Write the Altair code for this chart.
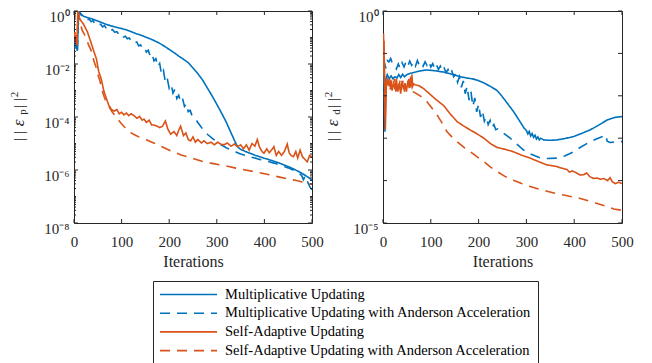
import altair as alt
import pandas as pd

FONT = "Liberation Serif"
AX = "#262626"

SERIES = [
    "Multiplicative Updating",
    "Multiplicative Updating with Anderson Acceleration",
    "Self-Adaptive Updating",
    "Self-Adaptive Updating with Anderson Acceleration",
]
COLORS = ["#0072BD", "#0072BD", "#D95319", "#D95319"]
DASHES = [[1, 0], [10, 7], [1, 0], [10, 7]]

X_TICKS = [0, 100, 200, 300, 400, 500]
YL_TICKS = [1, 1e-2, 1e-4, 1e-6, 1e-8]
YL_LABELS = ["10⁰", "10⁻²", "10⁻⁴", "10⁻⁶", "10⁻⁸"]
YR_TICKS = [1, 1e-5]
YR_LABELS = ["10⁰", "10⁻⁵"]

# (iteration, log10 value)
L_MU = [(0,-1.45),(2,-1.3),(4,-1.25),(7,-1.5),(10,0.0),(15,-0.12),(20,-0.2),(30,-0.26),(40,-0.31),(50,-0.38),
        (60,-0.45),(70,-0.52),(80,-0.57),(90,-0.62),(100,-0.66),(110,-0.71),(120,-0.78),(130,-0.85),(140,-0.91),
        (150,-0.98),(160,-1.05),(170,-1.13),(180,-1.22),(190,-1.33),(200,-1.45),(210,-1.57),(220,-1.7),(230,-1.82),
        (240,-1.95),(250,-2.15),(260,-2.36),(270,-2.6),(280,-2.9),(290,-3.2),(300,-3.52),(310,-3.85),(320,-4.2),
        (330,-4.6),(340,-5.0),(345,-5.15),(350,-5.22),(360,-5.3),(370,-5.37),(380,-5.44),(390,-5.5),(400,-5.56),
        (410,-5.61),(420,-5.67),(430,-5.73),(440,-5.8),(450,-5.87),(460,-5.95),(470,-6.04),(480,-6.14),(490,-6.25),
        (500,-6.38)]
L_MUAA = [(0,-1.4),(2,-1.2),(4,-1.3),(7,-1.55),(10,-0.02),(15,-0.15),(20,-0.25),(24,-0.3),(28,-0.34),(32,-0.3),
          (36,-0.4),(40,-0.36),(44,-0.48),(48,-0.44),(52,-0.52),(56,-0.5),(60,-0.6),(64,-0.55),(68,-0.66),(72,-0.62),
          (77,-0.74),(81,-0.7),(85,-0.8),(90,-0.78),(95,-0.9),(100,-0.86),(104,-0.98),(108,-0.95),(112,-1.05),
          (116,-1.02),(120,-1.12),(124,-1.1),(128,-1.2),(132,-1.17),(136,-1.32),(140,-1.28),(144,-1.42),(148,-1.38),
          (152,-1.55),(156,-1.48),(160,-1.7),(164,-1.62),(168,-1.88),(172,-1.8),(176,-2.1),(180,-1.98),(184,-2.4),
          (188,-2.25),(192,-2.7),(196,-2.55),(200,-2.92),(204,-2.78),(208,-3.1),(212,-2.95),(216,-3.3),(220,-3.18),
          (224,-3.42),(228,-3.3),(232,-3.6),(236,-3.5),(240,-3.8),(244,-3.75),(248,-3.95),(252,-4.0),(258,-4.15),
          (264,-4.3),(270,-4.45),(276,-4.58),(282,-4.68),(290,-4.8),(300,-4.93),(310,-5.06),(320,-5.16),(330,-5.25),
          (340,-5.32),(350,-5.4),(360,-5.45),(370,-5.5),(380,-5.55),(390,-5.6),(400,-5.64),(410,-5.69),(420,-5.74),
          (430,-5.8),(440,-5.86),(450,-5.92),(460,-6.0),(470,-6.1),(478,-6.2),(482,-6.36),(486,-6.22),(490,-6.42),
          (495,-6.62),(500,-6.75)]
L_SA = [(0,-1.2),(3,-0.9),(6,-1.3),(8,0.0),(12,-0.3),(20,-0.5),(28,-0.78),(35,-1.15),(42,-1.54),(47,-1.8),
        (52,-2.29),(57,-2.55),(63,-3.04),(68,-3.3),(73,-3.55),(78,-3.7),(84,-3.78),(90,-3.72),(95,-3.88),(100,-3.82),
        (105,-3.92),(110,-3.85),(115,-3.95),(120,-3.88),(126,-3.95),(132,-4.05),(138,-3.98),(143,-4.12),(147,-4.08),
        (152,-4.2),(158,-4.12),(163,-4.3),(168,-4.3),(175,-4.35),(180,-4.4),(186,-4.35),(192,-4.15),(197,-4.45),
        (203,-4.65),(210,-4.55),(216,-4.7),(220,-4.5),(224,-4.35),(230,-4.7),(235,-4.6),(240,-4.85),(245,-4.9),
        (250,-4.75),(255,-4.95),(260,-4.85),(268,-4.98),(273,-4.9),(280,-5.0),(288,-4.95),(295,-5.05),(302,-4.95),
        (308,-5.02),(315,-5.05),(322,-4.98),(330,-5.1),(337,-5.02),(343,-5.12),(350,-5.05),(356,-5.2),(362,-5.05),
        (368,-5.25),(374,-5.0),(380,-5.1),(385,-4.85),(390,-5.15),(395,-5.3),(399,-5.37),(405,-5.2),(410,-5.35),
        (415,-5.25),(420,-5.12),(425,-5.45),(430,-5.3),(436,-5.45),(442,-5.3),(448,-5.02),(452,-5.35),(456,-5.45),
        (461,-5.5),(466,-5.3),(470,-5.55),(475,-5.25),(480,-5.5),(485,-5.6),(490,-5.69),(495,-5.45),(500,-5.5)]
L_SAAA = [(0,-1.1),(2,-0.8),(4,-1.0),(6,-1.25),(9,-0.02),(13,-0.45),(17,-0.72),(21,-0.85),(25,-1.0),(28,-1.15),
          (31,-1.3),(35,-1.45),(38,-1.6),(42,-1.9),(45,-2.05),(48,-2.2),(51,-2.45),(54,-2.6),(57,-2.85),(60,-3.05),
          (63,-3.22),(66,-3.36),(70,-3.5),(75,-3.65),(80,-3.8),(85,-3.92),(90,-4.03),(98,-4.22),(105,-4.36),
          (112,-4.48),(120,-4.6),(130,-4.7),(140,-4.78),(153,-4.87),(165,-4.96),(180,-5.08),(196,-5.22),(210,-5.33),
          (225,-5.43),(245,-5.54),(260,-5.62),(275,-5.7),(290,-5.75),(308,-5.81),(325,-5.87),(340,-5.93),(360,-6.0),
          (378,-6.06),(395,-6.12),(410,-6.18),(430,-6.26),(448,-6.33),(465,-6.39),(480,-6.45),(490,-6.5),(500,-6.55)]

R_MU = [(0,-1.3),(2,-1.5),(4,-2.85),(6,-1.6),(9,-1.5),(13,-1.6),(17,-1.53),(21,-1.6),(25,-1.55),(29,-1.58),
        (33,-1.5),(37,-1.57),(41,-1.49),(45,-1.55),(50,-1.5),(57,-1.47),(65,-1.45),(75,-1.42),(85,-1.4),(92,-1.39),
        (100,-1.4),(110,-1.41),(120,-1.43),(127,-1.44),(140,-1.48),(150,-1.51),(162,-1.55),(175,-1.58),(187,-1.6),
        (197,-1.63),(210,-1.69),(225,-1.78),(238,-1.87),(246,-1.97),(255,-2.1),(265,-2.25),(273,-2.37),(285,-2.58),
        (295,-2.76),(300,-2.82),(303,-2.9),(306,-2.84),(309,-2.95),(312,-2.89),(315,-2.98),(318,-2.93),(321,-3.02),
        (324,-2.97),(327,-3.04),(330,-3.0),(336,-3.04),(350,-3.05),(364,-3.04),(380,-3.01),(399,-2.96),(415,-2.89),
        (434,-2.8),(450,-2.7),(469,-2.57),(485,-2.51),(500,-2.49)]
R_MUAA = [(0,-1.3),(3,-1.22),(6,-1.35),(9,-1.17),(12,-1.2),(16,-1.12),(20,-1.25),(24,-1.3),(28,-1.37),(32,-1.25),
          (36,-1.36),(40,-1.22),(44,-1.32),(48,-1.2),(52,-1.3),(56,-1.18),(60,-1.28),(64,-1.2),(68,-1.3),(72,-1.17),
          (76,-1.28),(80,-1.22),(84,-1.3),(88,-1.2),(92,-1.28),(96,-1.19),(100,-1.32),(104,-1.24),(108,-1.36),
          (112,-1.27),(116,-1.38),(120,-1.3),(124,-1.42),(128,-1.35),(132,-1.45),(136,-1.38),(140,-1.5),(144,-1.42),
          (148,-1.55),(152,-1.48),(156,-1.68),(160,-1.55),(164,-1.8),(168,-1.65),(172,-1.95),(176,-1.78),(180,-2.1),
          (184,-1.9),(188,-2.25),(192,-2.05),(196,-2.38),(200,-2.2),(204,-2.5),(208,-2.35),(212,-2.6),(216,-2.5),
          (220,-2.68),(224,-2.58),(228,-2.75),(232,-2.68),(236,-2.8),(240,-2.78),(252,-2.88),(266,-3.0),(280,-3.14),
          (294,-3.28),(310,-3.38),(328,-3.46),(345,-3.48),(364,-3.47),(380,-3.42),(399,-3.32),(415,-3.2),(434,-3.08),
          (450,-3.0),(462,-2.95),(466,-2.92),(469,-3.07),(475,-3.1),(485,-3.09),(500,-3.08)]
R_SA = [(0,-1.4),(1,-0.53),(3,-1.3),(5,-2.8),(7,-1.7),(10,-1.6),(13,-1.78),(16,-1.62),(19,-1.88),(22,-1.68),
        (25,-1.85),(28,-1.6),(31,-1.9),(34,-1.7),(37,-1.95),(40,-1.65),(43,-1.85),(46,-1.7),(49,-1.9),(52,-1.65),
        (55,-1.82),(58,-1.55),(61,-1.8),(64,-1.72),(67,-1.74),(75,-1.76),(85,-1.83),(92,-1.9),(100,-1.98),
        (110,-2.08),(120,-2.17),(127,-2.23),(140,-2.42),(155,-2.61),(170,-2.72),(183,-2.81),(197,-2.9),(211,-3.0),
        (225,-3.13),(239,-3.22),(255,-3.26),(273,-3.32),(290,-3.4),(308,-3.47),(325,-3.55),(343,-3.63),(360,-3.66),
        (372,-3.7),(378,-3.72),(385,-3.74),(390,-3.8),(396,-3.77),(405,-3.82),(413,-3.87),(420,-3.86),(426,-3.82),
        (432,-3.9),(440,-3.95),(448,-3.94),(455,-3.97),(462,-3.95),(470,-4.0),(475,-3.93),(480,-4.03),(486,-4.07),
        (493,-4.04),(500,-4.07)]
R_SAAA = [(0,-1.5),(2,-0.7),(4,-2.5),(6,-1.6),(9,-1.75),(12,-1.62),(15,-1.85),(18,-1.65),(21,-1.8),(24,-1.6),
          (27,-1.9),(30,-1.7),(33,-1.85),(36,-1.6),(39,-1.8),(42,-1.65),(45,-1.9),(48,-1.7),(51,-1.75),(54,-1.6),
          (57,-1.85),(60,-1.45),(63,-1.9),(70,-1.95),(80,-2.02),(92,-2.14),(103,-2.3),(113,-2.45),(124,-2.65),
          (134,-2.85),(145,-2.98),(155,-3.08),(170,-3.22),(183,-3.32),(197,-3.44),(211,-3.55),(225,-3.68),
          (239,-3.79),(255,-3.9),(273,-3.99),(290,-4.07),(308,-4.14),(325,-4.2),(343,-4.25),(360,-4.3),(378,-4.34),
          (395,-4.38),(413,-4.42),(430,-4.48),(448,-4.54),(465,-4.6),(483,-4.67),(500,-4.7)]


def frame(lists):
    rows = []
    for name, pts in zip(SERIES, lists):
        for it, e in pts:
            rows.append({"it": it, "val": 10.0 ** e, "series": name})
    return pd.DataFrame(rows)


def label_expr(ticks, labels):
    expr = "'" + labels[-1] + "'"
    for t, l in reversed(list(zip(ticks[:-1], labels[:-1]))):
        expr = f"datum.value >= {t * 0.5} ? '{l}' : " + expr
    return expr


LEG = alt.Legend(
    title=None, orient="none", legendX=79, legendY=270, direction="vertical",
    symbolType="stroke", symbolSize=3249, symbolStrokeWidth=1.6, clipHeight=15,
    rowPadding=2.7, labelOffset=7, labelLimit=400, labelFont=FONT, labelFontSize=14.5,
    labelColor="#000000", padding=6, strokeColor=AX, fillColor="#ffffff",
)

H = 212
ONE = pd.DataFrame({"k": [0]})


def txt(s, x, y, size, style="normal"):
    return alt.Chart(ONE).mark_text(
        text=s, angle=270, align="center", baseline="middle", font=FONT,
        fontSize=size, fontStyle=style, color=AX,
    ).encode(x=alt.value(x), y=alt.value(y))


def panel(df, W, ydom, yticks, ylabels, major, minor, sub, tx):
    xs = alt.Scale(domain=[0, 500], nice=False, zero=False)
    ys = alt.Scale(type="log", domain=ydom, nice=False)
    xax = alt.Axis(
        values=X_TICKS, title="Iterations", grid=False, ticks=False, domain=False,
        labelFont=FONT, labelFontSize=15, labelColor=AX, labelPadding=11, labelFlush=False,
        titleFont=FONT, titleFontSize=16, titleFontWeight="normal", titleColor=AX,
        titlePadding=4, format="d")
    yax = alt.Axis(
        values=yticks, labelExpr=label_expr(yticks, ylabels), title=None, grid=False,
        ticks=False, domain=False, labelFont=FONT, labelFontSize=15, labelColor=AX,
        labelPadding=5, labelOffset=5, labelFlush=False, labelOverlap=False)
    lines = alt.Chart(df).mark_line(strokeWidth=1.6, clip=True).encode(
        x=alt.X("it:Q", scale=xs, axis=xax),
        y=alt.Y("val:Q", scale=ys, axis=yax),
        color=alt.Color("series:N", scale=alt.Scale(domain=SERIES, range=COLORS), legend=LEG),
        strokeDash=alt.StrokeDash("series:N", scale=alt.Scale(domain=SERIES, range=DASHES), legend=LEG),
    )
    xt = pd.DataFrame({"it": X_TICKS})
    xb = alt.Chart(xt).mark_rule(color=AX, strokeWidth=1).encode(
        x=alt.X("it:Q", scale=xs, axis=xax), y=alt.value(H), y2=alt.value(H - 4))
    xtp = alt.Chart(xt).mark_rule(color=AX, strokeWidth=1).encode(
        x=alt.X("it:Q", scale=xs, axis=xax), y=alt.value(0), y2=alt.value(4))
    layers = [lines, xb, xtp]
    for vals, ln in ((major, 4), (minor, 2)):
        if not vals:
            continue
        yt = pd.DataFrame({"val": vals})
        layers.append(alt.Chart(yt).mark_rule(color=AX, strokeWidth=1).encode(
            y=alt.Y("val:Q", scale=ys, axis=yax), x=alt.value(0), x2=alt.value(ln)))
        layers.append(alt.Chart(yt).mark_rule(color=AX, strokeWidth=1).encode(
            y=alt.Y("val:Q", scale=ys, axis=yax), x=alt.value(W), x2=alt.value(W - ln)))
    layers += [
        txt("| |", tx, 125, 15),
        txt("ε", tx, 112, 17, "italic"),
        txt(sub, tx + 4, 101, 11),
        txt("| |", tx, 92, 15),
        txt("2", tx - 4.5, 83.5, 11),
    ]
    return alt.layer(*layers).properties(width=W, height=H)


minor_left = [k * 10.0 ** d for d in range(-8, 0) for k in range(2, 10)] + [1e-1, 1e-3, 1e-5, 1e-7]
left = panel(frame([L_MU, L_MUAA, L_SA, L_SAAA]), 238, [1e-8, 1], YL_TICKS, YL_LABELS,
             YL_TICKS, minor_left, "p", -55)
right = panel(frame([R_MU, R_MUAA, R_SA, R_SAAA]), 239, [1e-5, 1], YR_TICKS, YR_LABELS,
              [10.0 ** d for d in range(-5, 1)], [], "d", -50)

chart = alt.hconcat(left, right, spacing=71, bounds="flush").resolve_scale(
    color="shared", strokeDash="shared"
).properties(
    padding={"left": 0, "top": 0, "right": 5, "bottom": 1}, background="#ffffff"
).configure_view(stroke=AX, strokeWidth=1)

chart.save("out.html", embed_options={"renderer": "svg", "actions": False})
